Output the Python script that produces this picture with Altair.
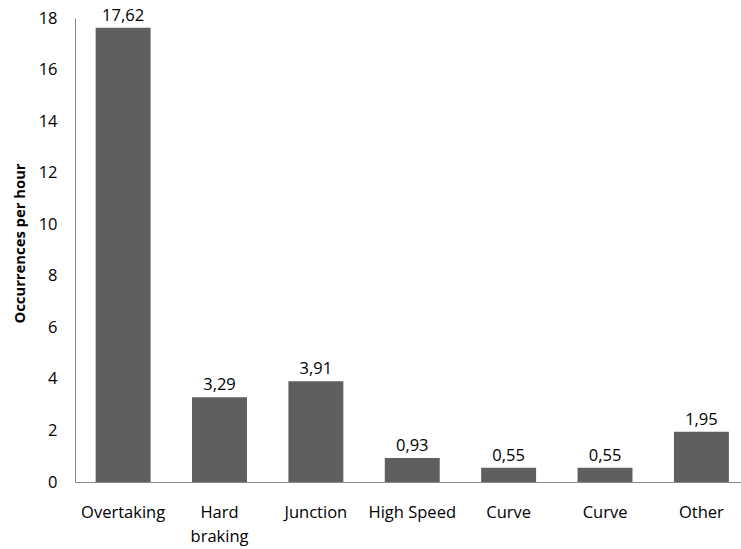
import json
import altair as alt
import pandas as pd

# Occurrences per hour for each event type
categories = ["Overtaking", "Hard braking", "Junction", "High Speed", "Curve", "Curve", "Other"]
values = [17.62, 3.29, 3.91, 0.93, 0.55, 0.55, 1.95]
# axis labels, one list of lines per category
x_label_lines = [["Overtaking"], ["Hard", "braking"], ["Junction"], ["High Speed"],
                 ["Curve"], ["Curve"], ["Other"]]
y_ticks = [0, 2, 4, 6, 8, 10, 12, 14, 16, 18]

df = pd.DataFrame({"pos": list(range(len(categories))), "category": categories, "value": values})

FONT = "Open Sans"
BAR = "#5f5f5f"
AXIS = "#898989"

x_enc = alt.X(
    "pos:O",
    scale=alt.Scale(paddingInner=0.43, paddingOuter=0.17, align=0.63),
    axis=alt.Axis(
        title=None,
        labelAngle=0,
        labelExpr=json.dumps(x_label_lines) + "[datum.value]",
        labelFont=FONT,
        labelFontSize=16.5,
        labelColor="#000000",
        labelPadding=22,
        labelLineHeight=24,
        ticks=False,
        domainColor=AXIS,
        domainWidth=1,
    ),
)

y_enc = alt.Y(
    "value:Q",
    scale=alt.Scale(domain=[0, 18], nice=False),
    axis=alt.Axis(
        title="Occurrences per hour",
        titleFont=FONT,
        titleFontSize=14.8,
        titleFontWeight="bold",
        titleColor="#000000",
        titleAngle=-90,
        titleX=-55,
        titleY=225,
        titleAlign="center",
        titleBaseline="middle",
        values=y_ticks,
        labelFont=FONT,
        labelFontSize=16.5,
        labelColor="#000000",
        labelPadding=18,
        ticks=False,
        grid=False,
        domainColor=AXIS,
        domainWidth=1,
    ),
)

bars = alt.Chart(df).mark_bar(color=BAR).encode(x=x_enc, y=y_enc)

labels = (
    alt.Chart(df)
    .transform_calculate(txt="replace(format(datum.value, '.2f'), '.', ',')")
    .mark_text(font=FONT, fontSize=16.5, color="#000000", baseline="bottom", dy=-4)
    .encode(x=alt.X("pos:O"), y=alt.Y("value:Q"), text="txt:N")
)

chart = (
    alt.layer(bars, labels)
    .properties(
        width=666,
        height=464,
        autosize=alt.AutoSizeParams(type="none"),
        padding={"left": 75, "top": 18, "right": 0, "bottom": 67},
        background="#ffffff",
    )
    .configure_view(stroke=None)
)

chart.save("out.html", embed_options={"renderer": "svg", "actions": False})
